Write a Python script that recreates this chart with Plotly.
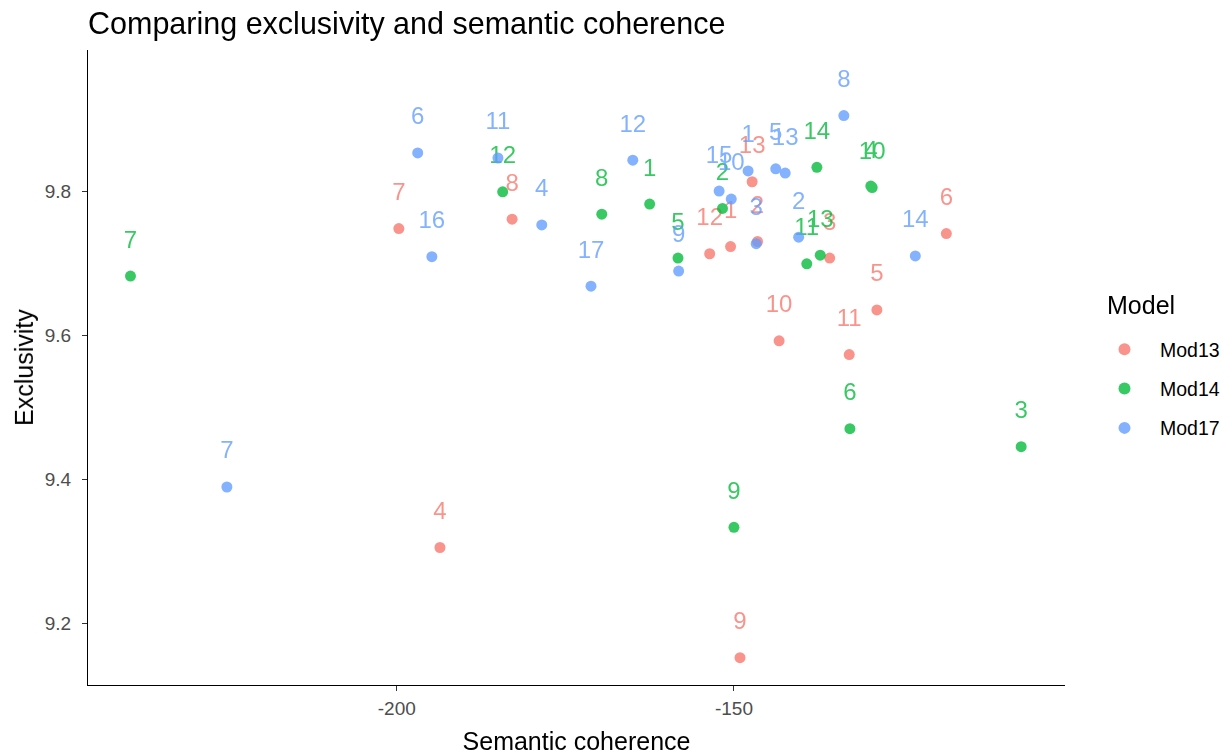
import plotly.graph_objects as go

# ---- data ----
models = ["Mod13", "Mod14", "Mod17"]
colors = {"Mod13": "#F8766D", "Mod14": "#00BA38", "Mod17": "#619CFF"}

mod13_topic = [1, 2, 3, 4, 5, 6, 7, 8, 9, 10, 11, 12, 13]
mod13_semcoh = [-150.5, -146.5, -135.8, -193.6, -128.8, -118.5, -199.7, -182.9, -149.1, -143.3, -132.9, -153.6, -147.3]
mod13_excl = [9.724, 9.731, 9.708, 9.306, 9.636, 9.742, 9.749, 9.762, 9.153, 9.593, 9.574, 9.714, 9.814]

mod14_topic = [1, 2, 3, 4, 5, 6, 7, 8, 9, 10, 11, 12, 13, 14]
mod14_semcoh = [-162.5, -151.7, -107.4, -129.7, -158.3, -132.8, -239.5, -169.6, -150.0, -129.5, -139.2, -184.3, -137.2, -137.7]
mod14_excl = [9.783, 9.777, 9.446, 9.808, 9.708, 9.471, 9.683, 9.769, 9.334, 9.806, 9.700, 9.800, 9.712, 9.834]

mod17_topic = [1, 2, 3, 4, 5, 6, 7, 8, 9, 10, 11, 12, 13, 14, 15, 16, 17]
mod17_semcoh = [-147.9, -140.4, -146.7, -178.5, -143.8, -196.9, -225.2, -133.7, -158.2, -150.4, -185.0, -165.0, -142.4, -123.1, -152.2, -194.8, -171.2]
mod17_excl = [9.829, 9.737, 9.728, 9.754, 9.832, 9.854, 9.390, 9.906, 9.690, 9.790, 9.847, 9.844, 9.826, 9.711, 9.801, 9.710, 9.669]

x_ticks = [-200, -150]
y_ticks = [9.2, 9.4, 9.6, 9.8]
label_nudge = 0.048

series = {
    "Mod13": (mod13_topic, mod13_semcoh, mod13_excl),
    "Mod14": (mod14_topic, mod14_semcoh, mod14_excl),
    "Mod17": (mod17_topic, mod17_semcoh, mod17_excl),
}

FONT = "Liberation Sans, Arial, sans-serif"

# the page has an 8px body margin, so the figure is 8px smaller than the window
W, H = 1222, 747
ML, MR, MT, MB = 80, 165, 42, 70
PW, PH = W - ML - MR, H - MT - MB

fig = go.Figure()
for m in models:
    topics, xs, ys = series[m]
    fig.add_trace(go.Scatter(
        x=xs, y=ys, mode="markers", name=m, legendgroup=m,
        marker=dict(color=colors[m], size=11, line=dict(width=0)),
        opacity=0.78,
    ))
    fig.add_trace(go.Scatter(
        x=xs, y=[v + label_nudge for v in ys], mode="text",
        text=[str(t) for t in topics], legendgroup=m, showlegend=False,
        textfont=dict(color=colors[m], size=24, family=FONT),
        textposition="middle center", opacity=0.78, hoverinfo="skip",
    ))

fig.update_layout(
    width=W, height=H,
    margin=dict(l=ML, r=MR, t=MT, b=MB, autoexpand=False),
    paper_bgcolor="white", plot_bgcolor="white",
    font=dict(family=FONT, color="black"),
    title=dict(text="Comparing exclusivity and semantic coherence",
               x=ML / W, xanchor="left", y=1 - 15 / H, yanchor="middle",
               font=dict(size=30.5, color="black", family=FONT)),
    legend=dict(
        font=dict(size=19.5, color="black"),
        x=(1081 - ML) / PW, xanchor="left",
        y=1 - (381 - MT) / PH, yanchor="middle",
        traceorder="grouped", tracegroupgap=11,
        itemsizing="constant", itemwidth=61,
    ),
    annotations=[dict(
        text="Model", showarrow=False, xref="paper", yref="paper",
        x=(1097 - ML) / PW, xanchor="left",
        y=1 - (297 - MT) / PH, yanchor="middle",
        font=dict(size=25, color="black", family=FONT),
    )],
    showlegend=True,
)

fig.update_xaxes(
    range=[-245.8, -100.9], tickvals=x_ticks, ticktext=[str(v) for v in x_ticks],
    showgrid=False, zeroline=False, automargin=False,
    showline=True, linecolor="black", linewidth=1.2, mirror=False,
    ticks="outside", ticklen=5, tickcolor="#333333", tickwidth=1.2,
    ticklabelstandoff=1,
    tickfont=dict(size=19, color="#4D4D4D"),
    title=dict(text="Semantic coherence", font=dict(size=25, color="black"), standoff=14),
)
fig.update_yaxes(
    range=[9.115, 9.997], tickvals=y_ticks, ticktext=[f"{v:.1f}" for v in y_ticks],
    showgrid=False, zeroline=False, automargin=False,
    showline=True, linecolor="black", linewidth=1.2, mirror=False,
    ticks="outside", ticklen=5, tickcolor="#333333", tickwidth=1.2,
    ticklabelstandoff=7,
    tickfont=dict(size=19, color="#4D4D4D"),
    title=dict(text="Exclusivity", font=dict(size=25, color="black"), standoff=4),
)

fig.write_html("out.html")
